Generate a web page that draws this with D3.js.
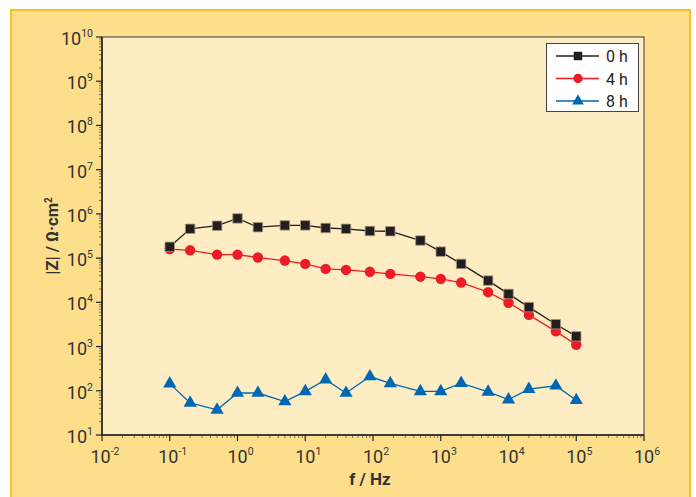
<!DOCTYPE html>
<html>
<head>
<meta charset="utf-8">
<script src="https://cdn.jsdelivr.net/npm/d3@7"></script>
<style>
  body { margin: 0; background: #fff; }
  svg { display: block; font-family: Roboto, "Open Sans", sans-serif; }
</style>
</head>
<body>
<svg id="chart" width="696" height="497"></svg>
<script>
// frecuencias (Hz) y modulo de impedancia para cada tiempo
const freq = [0.1, 0.2, 0.5, 1, 2, 5, 10, 20, 40, 90, 180, 500, 1000, 2000, 5000, 1e4, 2e4, 5e4, 1e5]
const z0h = [1.8e5, 4.6e5, 5.4e5, 7.9e5, 5.0e5, 5.5e5, 5.5e5, 4.8e5, 4.6e5, 4.1e5, 4.05e5, 2.5e5, 1.4e5, 7.4e4, 3.1e4, 1.55e4, 7.8e3, 3.2e3, 1.7e3]
const z4h = [1.6e5, 1.5e5, 1.2e5, 1.2e5, 1.03e5, 8.8e4, 7.4e4, 5.7e4, 5.4e4, 4.9e4, 4.4e4, 3.8e4, 3.4e4, 2.8e4, 1.7e4, 9.8e3, 5.2e3, 2.2e3, 1.1e3]
const z8h = [145, 53, 37, 89, 89, 57, 97, 178, 89, 210, 147, 97, 97, 149, 94, 63, 109, 130, 61]
const seriesNames = ['0 h', '4 h', '8 h']
const xTicks = [-2, -1, 0, 1, 2, 3, 4, 5, 6]
const yTicks = [1, 2, 3, 4, 5, 6, 7, 8, 9, 10]

const svg = d3.select('#chart')
const m = {left: 102, top: 37, right: 644, bottom: 435}

// fondo
svg.append('rect').attr('x', 11).attr('y', 10).attr('width', 679).attr('height', 490)
  .attr('fill', '#fddf8b').attr('stroke', '#fbc021').attr('stroke-width', 2)
svg.append('rect').attr('x', m.left).attr('y', m.top)
  .attr('width', m.right - m.left).attr('height', m.bottom - m.top)
  .attr('fill', '#feedc3').attr('stroke', '#555').attr('stroke-width', 1.2)

const x = d3.scaleLog().domain([1e-2, 1e6]).range([m.left, m.right])
const y = d3.scaleLog().domain([1e1, 1e10]).range([m.bottom, m.top])

// ticks menores
const minorX = []
xTicks.slice(0, -1).forEach(e => { for (let k = 2; k < 10; k++) minorX.push(k * Math.pow(10, e)) })
const minorY = []
yTicks.slice(0, -1).forEach(e => { for (let k = 2; k < 10; k++) minorY.push(k * Math.pow(10, e)) })

const ax = svg.append('g')
ax.selectAll('.mx').data(minorX).join('line')
  .attr('x1', d => x(d)).attr('x2', d => x(d)).attr('y1', m.bottom).attr('y2', m.bottom + 3)
  .attr('stroke', '#555').attr('stroke-width', 0.8)
ax.selectAll('.my').data(minorY).join('line')
  .attr('y1', d => y(d)).attr('y2', d => y(d)).attr('x1', m.left).attr('x2', m.left - 3)
  .attr('stroke', '#555').attr('stroke-width', 0.8)
ax.selectAll('.Mx').data(xTicks).join('line')
  .attr('x1', d => x(Math.pow(10, d))).attr('x2', d => x(Math.pow(10, d)))
  .attr('y1', m.bottom).attr('y2', m.bottom + 6).attr('stroke', '#222').attr('stroke-width', 1.2)
ax.selectAll('.My').data(yTicks).join('line')
  .attr('y1', d => y(Math.pow(10, d))).attr('y2', d => y(Math.pow(10, d)))
  .attr('x1', m.left).attr('x2', m.left - 6).attr('stroke', '#222').attr('stroke-width', 1.2)

// ejes principales
ax.append('line').attr('x1', m.left).attr('x2', m.right).attr('y1', m.bottom).attr('y2', m.bottom)
  .attr('stroke', '#222').attr('stroke-width', 1.6)
ax.append('line').attr('x1', m.left).attr('x2', m.left).attr('y1', m.top).attr('y2', m.bottom)
  .attr('stroke', '#222').attr('stroke-width', 1.6)

// etiquetas de ticks
const xl = ax.selectAll('.xl').data(xTicks).join('text')
  .attr('x', d => x(Math.pow(10, d)) + 3).attr('y', 463)
  .attr('text-anchor', 'middle').attr('fill', '#333').attr('font-size', 18)
xl.append('tspan').text('10')
xl.append('tspan').attr('dy', -8).attr('font-size', 10.5).text(d => d < 0 ? '-' + Math.abs(d) : d)

const yl = ax.selectAll('.yl').data(yTicks).join('text')
  .attr('x', 93).attr('y', d => y(Math.pow(10, d)) + 8)
  .attr('text-anchor', 'end').attr('fill', '#333').attr('font-size', 18)
yl.append('tspan').text('10')
yl.append('tspan').attr('dy', -8).attr('font-size', 10.5).text(d => d)

// titulos
svg.append('text').attr('x', 370).attr('y', 485).attr('text-anchor', 'middle')
  .attr('font-weight', 'bold').attr('font-size', 17).attr('fill', '#333').text('f / Hz')
const yt = svg.append('text').attr('transform', 'translate(58,236) rotate(-90)')
  .attr('text-anchor', 'middle').attr('font-weight', 'bold').attr('font-size', 16.5).attr('fill', '#333')
yt.append('tspan').text('|Z| / \u03A9\u00B7cm')
yt.append('tspan').attr('dy', -6).attr('font-size', 10).text('2')

// series
const series = [
  {name: seriesNames[0], values: z0h, color: '#231f20', shape: d3.symbolSquare, size: 90},
  {name: seriesNames[1], values: z4h, color: '#ed1c24', shape: d3.symbolCircle, size: 85},
  {name: seriesNames[2], values: z8h, color: '#0068b3', shape: d3.symbolTriangle, size: 75}
]
const line = d3.line().x(d => x(d[0])).y(d => y(d[1]))

series.slice().reverse().forEach(s => {
  const pts = freq.map((f, i) => [f, s.values[i]])
  svg.append('path').datum(pts).attr('d', line).attr('fill', 'none')
    .attr('stroke', s.color).attr('stroke-width', 1.3)
  svg.append('g').selectAll('path').data(pts).join('path')
    .attr('transform', d => `translate(${x(d[0])},${y(d[1])})`)
    .attr('d', d3.symbol(s.shape, s.size))
    .attr('fill', s.color)
    .attr('stroke', s.shape === d3.symbolSquare ? '#a89a80' : 'none').attr('stroke-width', 0.8)
})

// leyenda
const lg = svg.append('g')
lg.append('rect').attr('x', 546.5).attr('y', 43.5).attr('width', 92).attr('height', 68)
  .attr('fill', '#fff').attr('stroke', '#444').attr('stroke-width', 1)
series.forEach((s, i) => {
  const ly = 56 + i * 22.5
  lg.append('line').attr('x1', 556).attr('x2', 599).attr('y1', ly).attr('y2', ly)
    .attr('stroke', s.color).attr('stroke-width', 1.3)
  lg.append('path').attr('transform', `translate(578,${ly})`)
    .attr('d', d3.symbol(s.shape, s.size * 0.8)).attr('fill', s.color)
  lg.append('text').attr('x', 606).attr('y', ly + 6).attr('font-size', 16).attr('fill', '#222').text(s.name)
})
</script>
</body>
</html>
